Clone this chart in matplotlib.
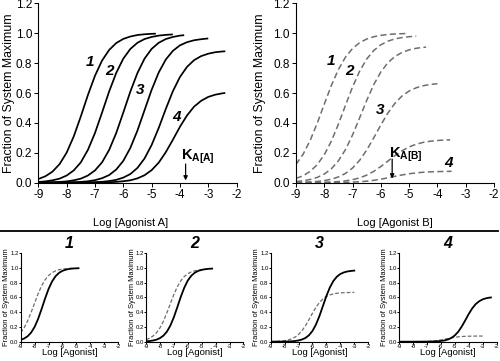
import matplotlib
matplotlib.use("Agg")
import matplotlib.pyplot as plt
from matplotlib.lines import Line2D

plt.rcParams['font.family'] = ['Liberation Sans', 'DejaVu Sans']
plt.rcParams['axes.unicode_minus'] = False
plt.rcParams['mathtext.fontset'] = 'custom'
plt.rcParams['mathtext.rm'] = 'Liberation Sans'
plt.rcParams['mathtext.bf'] = 'Liberation Sans:bold'

# ---------------- data ----------------
def qgrid(a, b):
    n = int(round((b - a) / 0.25))
    return [a + 0.25 * i for i in range(n + 1)]

# Agonist A (solid curves)
A1_x = qgrid(-9, -5) + [-4.85]
A1_y = [0.0245, 0.043, 0.074, 0.124, 0.201, 0.309, 0.443, 0.586, 0.715, 0.817,
        0.888, 0.934, 0.962, 0.978, 0.988, 0.993, 0.996, 0.997]
A2_x = qgrid(-9, -4.25)
A2_y = [0.005, 0.0088, 0.016, 0.027, 0.048, 0.082, 0.136, 0.219, 0.332, 0.469,
        0.610, 0.734, 0.830, 0.895, 0.936, 0.961, 0.975, 0.984, 0.989, 0.992]
A3_x = qgrid(-9, -4) + [-3.85]
A3_y = [0.0009, 0.0016, 0.0028, 0.005, 0.0088, 0.016, 0.027, 0.048, 0.082, 0.136,
        0.219, 0.332, 0.469, 0.610, 0.734, 0.830, 0.895, 0.936, 0.961, 0.975,
        0.984, 0.987]
A4_x = qgrid(-9, -3)
A4_y = [0.0002, 0.0003, 0.0006, 0.001, 0.0017, 0.0031, 0.0054, 0.0096, 0.017, 0.030,
        0.051, 0.088, 0.146, 0.233, 0.349, 0.485, 0.621, 0.737, 0.824, 0.882,
        0.919, 0.940, 0.953, 0.960, 0.965]
A5_x = [-9, -8.5] + qgrid(-8, -2.5) + [-2.4]
A5_y = [0.0, 0.0001, 0.0004, 0.0006, 0.0012, 0.0019, 0.0035, 0.0062, 0.011, 0.019,
        0.034, 0.058, 0.099, 0.162, 0.252, 0.366, 0.493, 0.612, 0.707, 0.775,
        0.820, 0.847, 0.863, 0.873, 0.878, 0.879]
A6_x = [-9, -8, -7.5] + qgrid(-7, -2.5) + [-2.4]
A6_y = [0.0, 0.0001, 0.0003, 0.001, 0.0017, 0.003, 0.0054, 0.0098, 0.016, 0.029,
        0.050, 0.084, 0.134, 0.204, 0.287, 0.374, 0.450, 0.509, 0.548, 0.574,
        0.589, 0.598, 0.600]

# Agonist B (dashed curves)
B1_x = qgrid(-9, -5.25) + [-5.1]
B1_y = [0.1225, 0.1899, 0.2824, 0.3979, 0.5259, 0.6506, 0.7576, 0.8400, 0.8981,
        0.9367, 0.9613, 0.9766, 0.9859, 0.9916, 0.9950, 0.997, 0.9978]
B2_x = qgrid(-9, -4.75)
B2_y = [0.0283, 0.0465, 0.0756, 0.1207, 0.1871, 0.2782, 0.3919, 0.5180, 0.6408,
        0.7462, 0.8274, 0.8846, 0.9226, 0.9469, 0.9620, 0.9711, 0.9767, 0.9801]
B3_x = qgrid(-9, -4.5) + [-4.4]
B3_y = [0.0077, 0.0129, 0.0214, 0.0354, 0.0579, 0.0932, 0.1464, 0.2218, 0.3197,
        0.4338, 0.5509, 0.6566, 0.7412, 0.8029, 0.8447, 0.8718, 0.8887, 0.8992,
        0.9055, 0.9073]
B4_x = qgrid(-9, -4)
B4_y = [0.0018, 0.0030, 0.0051, 0.0085, 0.0142, 0.0235, 0.0385, 0.0622, 0.0982,
        0.1499, 0.2186, 0.3004, 0.3867, 0.4664, 0.5318, 0.5802, 0.6134, 0.6351,
        0.6488, 0.6572, 0.6623]
B4_tail_x = [-3.75, -3.5, -3.25, -3.0]
B4_tail_y = [0.665, 0.667, 0.668, 0.669]
B5_x = [-9, -8.5] + qgrid(-8, -3.75) + [-3.55]
B5_y = [0.0003, 0.0010, 0.0027, 0.0045, 0.0075, 0.0124, 0.0202, 0.0324, 0.0506,
        0.0760, 0.1083, 0.1450, 0.1817, 0.2140, 0.2394, 0.2576, 0.2698, 0.2776,
        0.2825, 0.2855, 0.2870]
B6_x = [-9, -8.5, -8, -7.5] + qgrid(-7.25, -3.5)
B6_y = [0.0001, 0.0002, 0.0005, 0.0015, 0.0024, 0.0040, 0.0065, 0.0103, 0.0159,
        0.0234, 0.0326, 0.0425, 0.0519, 0.0598, 0.0657, 0.0699, 0.0726, 0.0743,
        0.0754, 0.0760]
B6_tail_x = [-3.25, -3.0]
B6_tail_y = [0.0764, 0.0767]

x_ticks = [-9, -8, -7, -6, -5, -4, -3, -2]
y_ticks = [0.0, 0.2, 0.4, 0.6, 0.8, 1.0, 1.2]
curve_labels = ["1", "2", "3", "4"]
KA_A = -3.8
KA_B = -5.6

# ---------------- figure ----------------
fig = plt.figure(figsize=(5.0, 3.61), dpi=100)

solid_kw = dict(color='black', lw=1.25, solid_capstyle='butt')
dash_col = '#6e6e6e'
dash_kw = dict(color=dash_col, lw=1.1, linestyle=(0, (4.0, 2.2)))


def style(ax, tick_fs, tick_len, pad):
    ax.set_xlim(-9, -2)
    ax.set_ylim(0, 1.2)
    ax.set_xticks(x_ticks)
    ax.set_yticks(y_ticks)
    ax.set_xticklabels([str(t) for t in x_ticks])
    ax.set_yticklabels(["%.1f" % t for t in y_ticks])
    for s in ('top', 'right'):
        ax.spines[s].set_visible(False)
    for s in ('left', 'bottom'):
        ax.spines[s].set_linewidth(0.8)
    ax.tick_params(labelsize=tick_fs, length=tick_len, width=0.7, pad=pad)
    ax.patch.set_alpha(0)


# top-left
axA = fig.add_axes([0.0766, 0.4939, 0.3966, 0.4969])
style(axA, 8.5, 3, 1.5)
for xs, ys in [(A1_x, A1_y), (A2_x, A2_y), (A3_x, A3_y),
               (A4_x, A4_y), (A5_x, A5_y), (A6_x, A6_y)]:
    axA.plot(xs, ys, **solid_kw)
for lab, (tx, ty) in zip(curve_labels, [(-7.17, 0.81), (-6.49, 0.75),
                                        (-5.41, 0.62), (-4.13, 0.44)]):
    axA.text(tx, ty, lab, fontsize=11, fontweight='bold', fontstyle='italic',
             ha='center', va='center')
axA.text(-3.97, 0.155, r'$\mathbf{K}_{\mathbf{A[A]}}$', fontsize=10.5,
         ha='left', va='baseline')
axA.annotate('', xy=(KA_A, 0.015), xytext=(KA_A, 0.125),
             arrowprops=dict(arrowstyle='-|>', color='black', lw=0.9,
                             mutation_scale=6, shrinkA=0, shrinkB=0))
fig.text(0.262, 0.382, 'Log [Agonist A]', fontsize=8, ha='center', va='center')
fig.text(0.019, 0.742, 'Fraction of System Maximum', fontsize=8.8,
         rotation=90, ha='center', va='center')

# top-right
axB = fig.add_axes([0.592, 0.4939, 0.396, 0.4969])
style(axB, 8.5, 3, 1.5)
for xs, ys in [(B1_x, B1_y), (B2_x, B2_y), (B3_x, B3_y),
               (B4_x, B4_y), (B5_x, B5_y), (B6_x, B6_y)]:
    axB.plot(xs, ys, **dash_kw)
for lab, (tx, ty) in zip(curve_labels, [(-7.76, 0.817), (-7.12, 0.745),
                                        (-6.02, 0.487), (-3.62, 0.134)]):
    axB.text(tx, ty, lab, fontsize=11, fontweight='bold', fontstyle='italic',
             ha='center', va='center')
axB.text(-5.72, 0.172, r'$\mathbf{K}_{\mathbf{A[B]}}$', fontsize=10.5,
         ha='left', va='baseline')
axB.annotate('', xy=(KA_B, 0.028), xytext=(KA_B, 0.158),
             arrowprops=dict(arrowstyle='-|>', color='black', lw=0.9,
                             mutation_scale=6, shrinkA=0, shrinkB=0))
fig.text(0.79, 0.382, 'Log [Agonist B]', fontsize=8, ha='center', va='center')
fig.text(0.519, 0.742, 'Fraction of System Maximum', fontsize=8.8,
         rotation=90, ha='center', va='center')

# separator line
fig.add_artist(Line2D([0.0, 0.996], [0.36, 0.36], color='black', lw=1.3,
                      transform=fig.transFigure))

# bottom panels
panel_lefts = [0.0414, 0.292, 0.5414, 0.798]
ylabel_x = [0.013, 0.264, 0.513, 0.770]
panel_data = [
    (A1_x, A1_y, B1_x, B1_y),
    (A2_x, A2_y, B2_x, B2_y),
    (A4_x, A4_y, B4_x + B4_tail_x, B4_y + B4_tail_y),
    (A6_x, A6_y, B6_x + B6_tail_x, B6_y + B6_tail_y),
]
for i, (left, (ax_, ay_, bx_, by_)) in enumerate(zip(panel_lefts, panel_data)):
    ax = fig.add_axes([left, 0.0535, 0.195, 0.2449])
    style(ax, 4.3, 1.2, 0.4)
    ax.plot(bx_, by_, color=dash_col, lw=0.9, linestyle=(0, (3.0, 1.6)))
    ax.plot(ax_, ay_, color='black', lw=1.3)
    ax.set_title(curve_labels[i], fontsize=11.5, fontweight='bold',
                 fontstyle='italic', pad=4)
    fig.text(left + 0.0975, 0.024, 'Log [Agonist]', fontsize=6.8,
             ha='center', va='center')
    fig.text(ylabel_x[i], 0.176, 'Fraction of System Maximum', fontsize=5.4,
             rotation=90, ha='center', va='center')

fig.savefig('out.png', dpi=100)
